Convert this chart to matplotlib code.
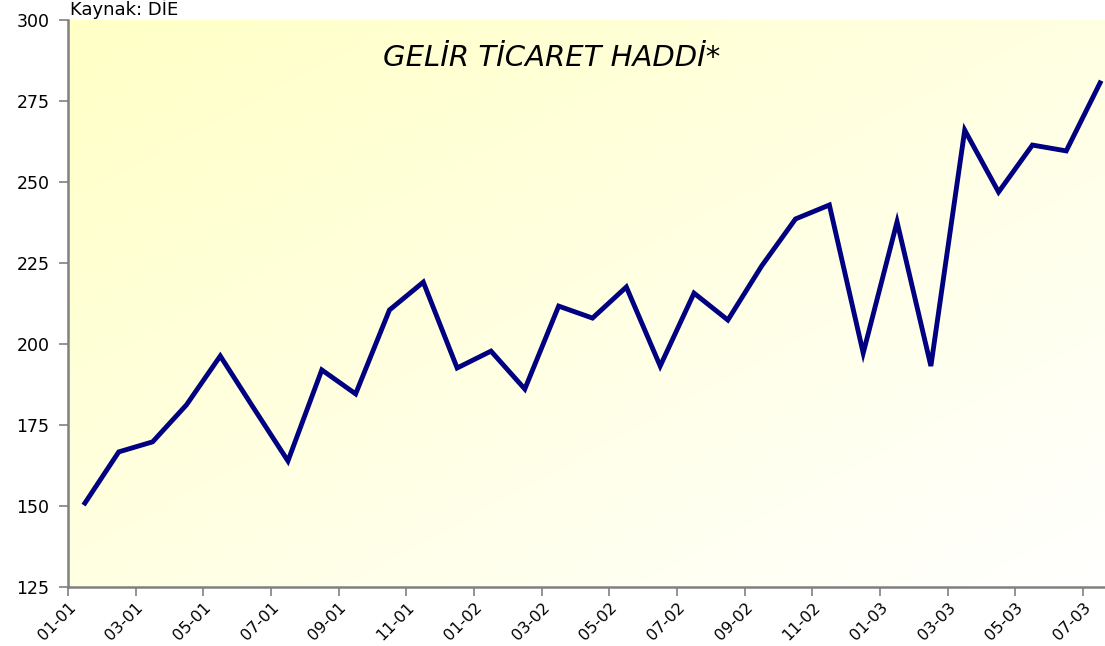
import numpy as np
import matplotlib.pyplot as plt
from matplotlib.colors import LinearSegmentedColormap

# monthly labels Jan 2001 .. Jul 2003
months = ['01-01', '02-01', '03-01', '04-01', '05-01', '06-01', '07-01', '08-01',
          '09-01', '10-01', '11-01', '12-01', '01-02', '02-02', '03-02', '04-02',
          '05-02', '06-02', '07-02', '08-02', '09-02', '10-02', '11-02', '12-02',
          '01-03', '02-03', '03-03', '04-03', '05-03', '06-03', '07-03']
values = [150.9, 166.7, 169.8, 181.2, 196.3, 180.0, 163.9, 192.0,
          184.6, 210.5, 219.1, 192.6, 197.8, 186.1, 211.7, 208.0,
          217.6, 193.2, 215.7, 207.4, 224.1, 238.6, 242.9, 197.2,
          237.7, 193.2, 266.0, 246.9, 261.4, 259.6, 280.6]
yticks = [125, 150, 175, 200, 225, 250, 275, 300]

fig = plt.figure(figsize=(11.05, 6.46), dpi=100)
W, H = 1105, 646
# plot area runs past the right edge of the picture (cropped like the original)
ax = fig.add_axes([68 / W, (H - 587) / H, 1049 / W, 567 / H])

# yellow (top-left) -> white (bottom-right) background
cmap = LinearSegmentedColormap.from_list('bg', ['#FFFFC6', '#FFFFFF'])
xx, yy = np.meshgrid(np.linspace(0, 1, 200), np.linspace(0, 1, 200))
grad = (xx + yy) / 2   # row 0 is the top with origin='upper'
ax.imshow(grad, cmap=cmap, extent=[0, 1, 0, 1], transform=ax.transAxes,
          aspect='auto', origin='upper', zorder=0, vmin=0, vmax=1)

x = np.arange(len(months))
ax.plot(x, values, color='#000080', lw=3.5, zorder=3, solid_joinstyle='miter')

ax.set_xlim(-0.5, len(months) - 0.5)
ax.set_ylim(125, 300)
ax.set_yticks(yticks)
ax.set_yticklabels([str(v) for v in yticks], fontsize=12.5, family='DejaVu Sans')

# ticks on the boundaries, every second month
ax.set_xticks(x[::2] - 0.5)
ax.set_xticklabels(months[::2], rotation=45, ha='right', va='top',
                   rotation_mode='anchor', fontsize=11.5, family='DejaVu Sans')
ax.tick_params(axis='both', direction='out', length=6.5, color='#808080', width=1.2)
ax.tick_params(axis='x', pad=2.5)
ax.tick_params(axis='y', pad=7)

for s in ['top', 'right']:
    ax.spines[s].set_visible(False)
for s in ['left', 'bottom']:
    ax.spines[s].set_color('#808080')
    ax.spines[s].set_linewidth(1.8)

fig.text(552 / W, 1 - 58 / H, 'GELİR TİCARET HADDİ*', fontsize=21,
         style='italic', ha='center', va='center')
fig.text(70 / W, 1 - 15 / H, 'Kaynak: DİE', fontsize=13, ha='left', va='baseline')

fig.savefig('out.png', dpi=100)
